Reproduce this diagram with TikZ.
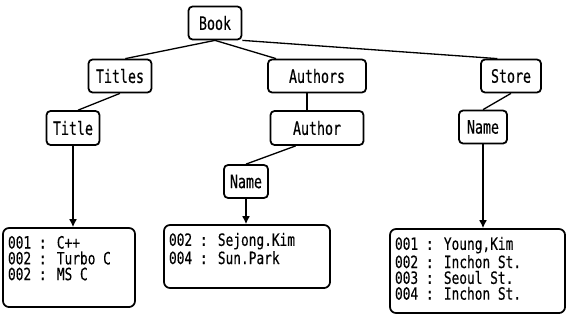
\documentclass[tikz,border=0pt]{standalone}
\usepackage{fontspec}
\usepackage{tikz}
\usetikzlibrary{arrows.meta}
\newfontfamily\labelfont[FakeStretch=0.72,FakeBold=0.4]{DejaVu Sans Mono}
\newfontfamily\datafont[FakeStretch=0.76,FakeBold=0.4]{DejaVu Sans Mono}

\begin{document}
\begin{tikzpicture}[
	tag/.style={draw, line width=1pt, rounded corners=0.08cm, inner sep=0, minimum height=0.66cm, font=\labelfont\fontsize{10.5pt}{11pt}\selectfont},
	databox/.style={draw, line width=1pt, rounded corners=0.12cm, inner xsep=0.1cm, inner ysep=0.16cm, font=\datafont\fontsize{9.6pt}{9pt}\selectfont},
	link/.style={line width=0.75pt},
	pointer/.style={line width=0.75pt, -{Latex[length=4.5pt,width=4.5pt]}}]
	\useasboundingbox (0,0) rectangle (11.32,6.46);

	% element tree
	\node [name=book, tag, minimum width=1.06cm] at (4.30,6.00) {Book};

	\node [name=titles, tag, minimum width=1.26cm] at (2.40,4.94) {Titles};
	\node [name=authors, tag, minimum width=1.96cm] at (6.34,4.94) {Authors};
	\node [name=store, tag, minimum width=1.20cm] at (10.22,4.94) {Store};

	\node [name=title, tag, minimum width=1.06cm, minimum height=0.68cm] at (1.46,3.90) {Title};
	\node [name=author, tag, minimum width=1.86cm, minimum height=0.68cm] at (6.34,3.90) {Author};
	\node [name=storename, tag, minimum width=0.96cm] at (9.66,3.92) {Name};
	\node [name=authorname, tag, minimum width=0.88cm] at (4.92,2.83) {Name};

	% values
	\node [name=titledata, databox] at (1.38,1.11)
		{\parbox[t][1.26cm][t]{2.44cm}{001 : C++\\002 : Turbo C\\002 : MS C}};
	\node [name=authordata, databox] at (4.94,1.33)
		{\parbox[t][0.94cm][t]{3.12cm}{002 : Sejong.Kim\\004 : Sun.Park}};
	\node [name=storedata, databox] at (9.55,1.04)
		{\parbox[t][1.36cm][t]{3.30cm}{001 : Young,Kim\\002 : Inchon St.\\003 : Seoul St.\\004 : Inchon St.}};

	\draw [link] (book.south) -- (titles.73);
	\draw [link] (book.south) -- (authors.157);
	\draw [link] (book.south east) -- (store.128);

	\draw [link] (titles.south) -- (title.74);
	\draw [link] ([xshift=-0.2cm]authors.south) -- ([xshift=-0.2cm]author.north);
	\draw [link] (store.south) -- (storename.north);
	\draw [link] (author.220) -- (authorname.north);

	\draw [pointer] (title.south) -- (title.south |- titledata.north);
	\draw [pointer] (authorname.south) -- (authorname.south |- authordata.north);
	\draw [pointer] (storename.south) -- (storename.south |- storedata.north);

\end{tikzpicture}
\end{document}
